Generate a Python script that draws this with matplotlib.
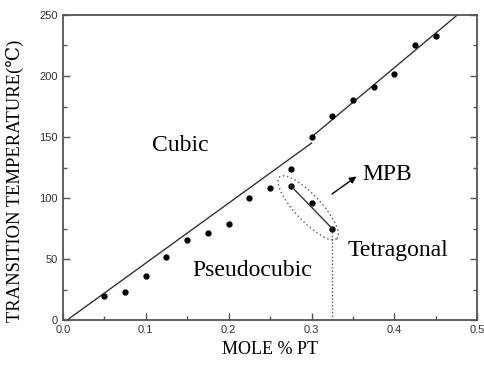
import numpy as np
import matplotlib.pyplot as plt

# measured transition temperatures
pt = [0.05, 0.075, 0.1, 0.125, 0.15, 0.175, 0.2, 0.225, 0.25, 0.275,
      0.3, 0.325, 0.35, 0.375, 0.4, 0.425, 0.45]
temp = [20, 23, 36, 52, 66, 71, 79, 100, 108, 124,
        150, 167, 180, 191, 202, 225, 233]

# MPB points
mpb_pt = [0.275, 0.3, 0.325]
mpb_temp = [110, 96, 75]

# phase boundary lines
low_x = [0.005, 0.3]
low_y = [0, 145]
high_x = [0.3, 0.476]
high_y = [150, 250]

serif = ['Liberation Serif', 'DejaVu Serif']
sans = ['Liberation Sans', 'DejaVu Sans']

fig = plt.figure(figsize=(4.84, 3.65), dpi=100)
ax = fig.add_axes([0.130, 0.123, 0.856, 0.836])

lc = '#333333'
ax.plot(low_x, low_y, color=lc, lw=1)
ax.plot(high_x, high_y, color=lc, lw=1)
ax.plot(pt, temp, 'o', color='k', ms=3.5)
ax.plot(mpb_pt, mpb_temp, 'o', color='k', ms=3.5)
ax.plot(mpb_pt[::2], mpb_temp[::2], color=lc, lw=1)

# vertical dotted boundary
ax.plot([mpb_pt[-1], mpb_pt[-1]], [0, mpb_temp[-1]], color='#555555',
        lw=1, linestyle=(0, (1, 1.5)))

# dotted ellipse around MPB (built in pixel units, converted to data)
sx = 0.5 / 414
sy = 250 / 305
t = np.linspace(0, 2 * np.pi, 200)
a, b, th = 42, 13, np.radians(-47)
px = a * np.cos(t) * np.cos(th) - b * np.sin(t) * np.sin(th)
py = a * np.cos(t) * np.sin(th) + b * np.sin(t) * np.cos(th)
ax.plot(0.296 + px * sx, 92 + py * sy, color='#555555', lw=1,
        linestyle=(0, (1, 2)))

ax.annotate('', xy=(0.357, 119), xytext=(0.322, 102),
            arrowprops=dict(arrowstyle='-|>', color='k', lw=1,
                            mutation_scale=10))

ax.text(0.107, 143, 'Cubic', family=serif, fontsize=17, va='center')
ax.text(0.156, 41, 'Pseudocubic', family=serif, fontsize=17, va='center')
ax.text(0.344, 57, 'Tetragonal', family=serif, fontsize=17, va='center')
ax.text(0.361, 119, 'MPB', family=serif, fontsize=17, va='center')

ax.set_xlim(0, 0.5)
ax.set_ylim(0, 250)
ax.set_xticks([0.0, 0.1, 0.2, 0.3, 0.4, 0.5])
ax.set_xticks(np.arange(0.05, 0.5, 0.1), minor=True)
ax.set_yticks([0, 50, 100, 150, 200, 250])
ax.set_yticks([25, 75, 125, 175, 225], minor=True)
ax.tick_params(which='both', direction='in', right=True, top=False,
               colors='#555555', labelcolor='#333333', labelsize=8)
ax.tick_params(which='major', length=5, width=1)
ax.tick_params(which='minor', length=3, width=1)
for lab in ax.get_xticklabels() + ax.get_yticklabels():
    lab.set_family(sans)
for s in ax.spines.values():
    s.set_color('#555555')
    s.set_linewidth(1.3)

ax.set_xlabel('MOLE % PT', family=serif, fontsize=13, labelpad=4)
ax.set_ylabel('TRANSITION TEMPERATURE(℃)', family=serif, fontsize=13.4)
ax.yaxis.set_label_coords(-0.094, 0.456)

fig.savefig('out.png', dpi=100)
